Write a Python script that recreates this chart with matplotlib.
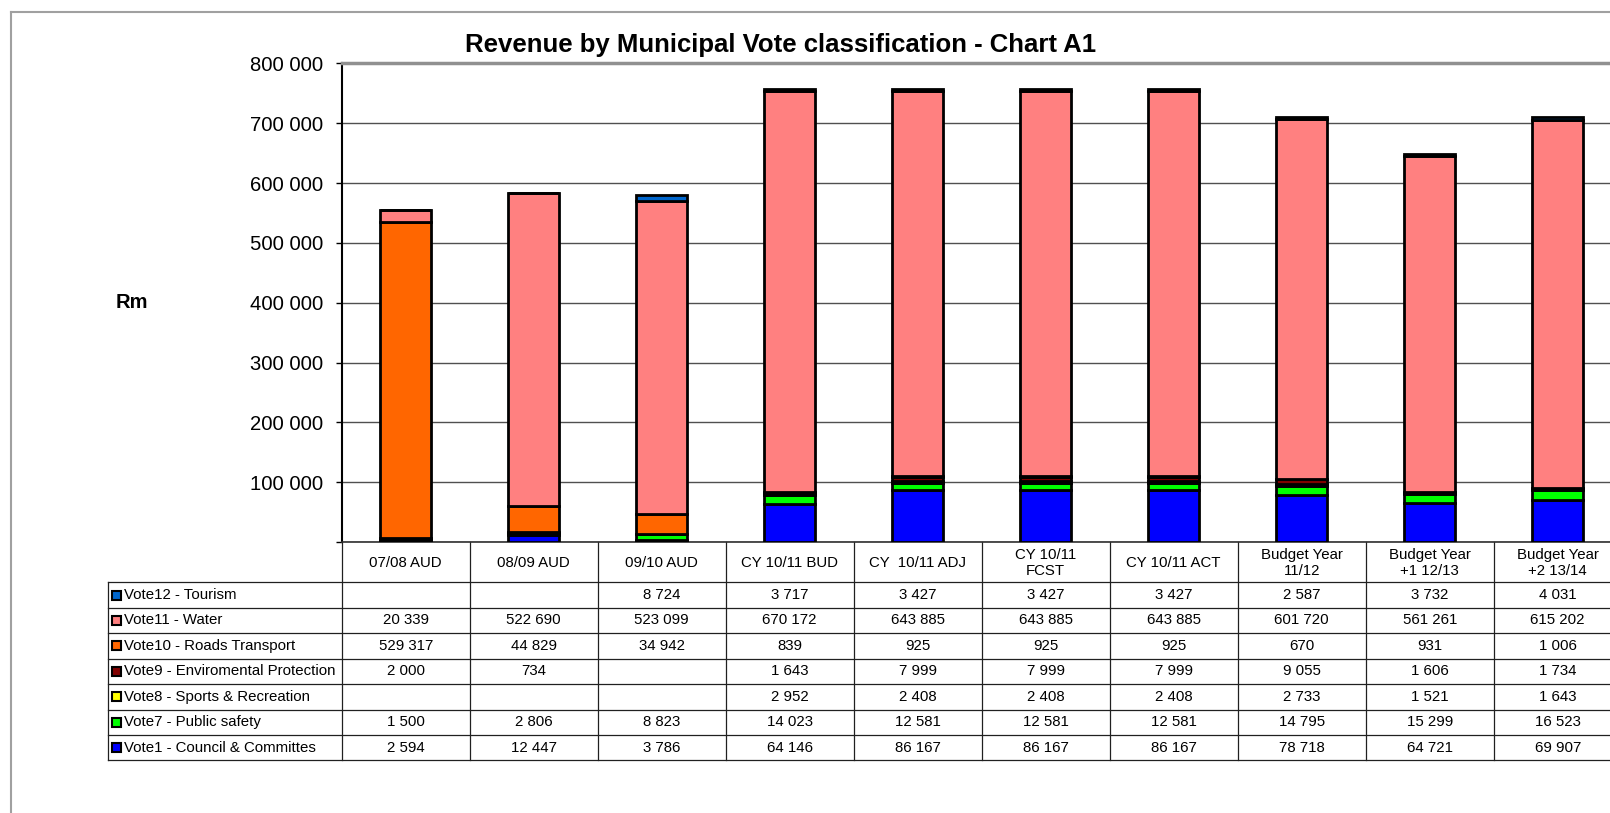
import matplotlib
matplotlib.use("Agg")
import matplotlib.pyplot as plt
from matplotlib.transforms import blended_transform_factory
from matplotlib.patches import Rectangle
from matplotlib.lines import Line2D

plt.rcParams['font.family'] = ['Liberation Sans', 'DejaVu Sans']

categories = ["07/08 AUD", "08/09 AUD", "09/10 AUD", "CY 10/11 BUD", "CY  10/11 ADJ",
              "CY 10/11\nFCST", "CY 10/11 ACT", "Budget Year\n11/12",
              "Budget Year\n+1 12/13", "Budget Year\n+2 13/14"]

# series, bottom of stack first
council = [2594, 12447, 3786, 64146, 86167, 86167, 86167, 78718, 64721, 69907]
safety = [1500, 2806, 8823, 14023, 12581, 12581, 12581, 14795, 15299, 16523]
sports = [None, None, None, 2952, 2408, 2408, 2408, 2733, 1521, 1643]
enviro = [2000, 734, None, 1643, 7999, 7999, 7999, 9055, 1606, 1734]
roads = [529317, 44829, 34942, 839, 925, 925, 925, 670, 931, 1006]
water = [20339, 522690, 523099, 670172, 643885, 643885, 643885, 601720, 561261, 615202]
tourism = [None, None, 8724, 3717, 3427, 3427, 3427, 2587, 3732, 4031]

series = [
    ("Vote1 - Council & Committes", council, "#0000FF"),
    ("Vote7 - Public safety", safety, "#00FF00"),
    ("Vote8 - Sports & Recreation", sports, "#FFFF00"),
    ("Vote9 - Enviromental Protection", enviro, "#800000"),
    ("Vote10 - Roads Transport", roads, "#FF6600"),
    ("Vote11 - Water", water, "#FF8080"),
    ("Vote12 - Tourism", tourism, "#0066CC"),
]

yticks = [100000, 200000, 300000, 400000, 500000, 600000, 700000, 800000]

W, H = 1610, 813
fig = plt.figure(figsize=(W / 100, H / 100), dpi=100)

# outer chart frame (gray)
fig.add_artist(Line2D([11 / W, 11 / W], [0, 1 - 12 / H], transform=fig.transFigure,
                      color="#A0A0A0", lw=1.5))
fig.add_artist(Line2D([11 / W, 1], [1 - 12 / H, 1 - 12 / H], transform=fig.transFigure,
                      color="#A0A0A0", lw=1.5))

ax_left, ax_right = 341.7, 1621.7
ax_top, ax_bot = 63.5, 542.0
ax = fig.add_axes([ax_left / W, 1 - ax_bot / H, (ax_right - ax_left) / W, (ax_bot - ax_top) / H])

n = len(categories)
x = list(range(n))
bottom = [0.0] * n
for name, vals, col in series:
    v = [0 if a is None else a for a in vals]
    ax.bar(x, v, width=0.4, bottom=bottom, color=col, edgecolor="black", linewidth=2.0, zorder=3)
    bottom = [b + a for b, a in zip(bottom, v)]

ax.set_xlim(-0.5, n - 0.5)
ax.set_ylim(0, 800000)
ax.set_yticks([0] + yticks)
ax.set_yticklabels([""] + [f"{t:,}".replace(",", " ") for t in yticks], fontsize=14.6)
ax.tick_params(axis="y", length=4.5, width=1, pad=9, direction="out")
ax.set_xticks([])
ax.yaxis.grid(True, color="#505050", lw=1, zorder=0)
ax.spines["left"].set_linewidth(1.5)
ax.spines["left"].set_color("black")
ax.spines["top"].set_color("#909090")
ax.spines["top"].set_linewidth(2.5)
ax.spines["bottom"].set_color("#303030")
ax.spines["bottom"].set_linewidth(1.2)
ax.spines["right"].set_visible(False)

fig.text(781 / W, 1 - 45 / H, "Revenue by Municipal Vote classification - Chart A1",
         ha="center", va="center", fontsize=18.5, fontweight="bold")
fig.text(132 / W, 1 - 302 / H, "Rm", ha="center", va="center", fontsize=14.5, fontweight="bold")

# data table
tr = blended_transform_factory(ax.transData, fig.transFigure)
def fy(py):
    return 1 - py / H

px_per_cat = (ax_right - ax_left) / n
label_left = -0.5 - (ax_left - 108.3) / px_per_cat
header_top, header_bot = 542.0, 582.3
row_h = 25.45
rows = list(reversed(series))
table_bot = header_bot + row_h * len(rows)
lc = "#202020"
lw = 0.9

# header verticals
for i in range(n + 1):
    xx = i - 0.5
    ax.add_line(Line2D([xx, xx], [fy(header_top), fy(table_bot)], transform=tr,
                       color=lc, lw=lw, clip_on=False))
# left border of label column
ax.add_line(Line2D([label_left, label_left], [fy(header_bot), fy(table_bot)], transform=tr,
                   color=lc, lw=lw, clip_on=False))
# horizontal lines
for r in range(len(rows) + 1):
    yy = fy(header_bot + r * row_h)
    ax.add_line(Line2D([label_left, n - 0.5], [yy, yy], transform=tr,
                       color=lc, lw=lw, clip_on=False))

for i, c in enumerate(categories):
    ax.text(i, fy((header_top + header_bot) / 2 + 1), c, transform=tr, ha="center", va="center",
            fontsize=10.8, linespacing=1.15, clip_on=False)

key_x0 = label_left + (112 - 108.3) / px_per_cat
key_w = 9 / px_per_cat
for r, (name, vals, col) in enumerate(rows):
    yc = header_bot + (r + 0.5) * row_h
    ax.add_patch(Rectangle((key_x0, fy(yc + 4.5)), key_w, 9 / H, transform=tr, facecolor=col,
                           edgecolor="black", lw=1.5, clip_on=False))
    ax.text(label_left + (124 - 108.3) / px_per_cat, fy(yc), name, transform=tr,
            ha="left", va="center", fontsize=10.8, clip_on=False)
    for i, v in enumerate(vals):
        if v is None:
            continue
        ax.text(i, fy(yc), f"{v:,}".replace(",", " "), transform=tr, ha="center",
                va="center", fontsize=10.8, clip_on=False)

fig.savefig("out.png", dpi=100)
